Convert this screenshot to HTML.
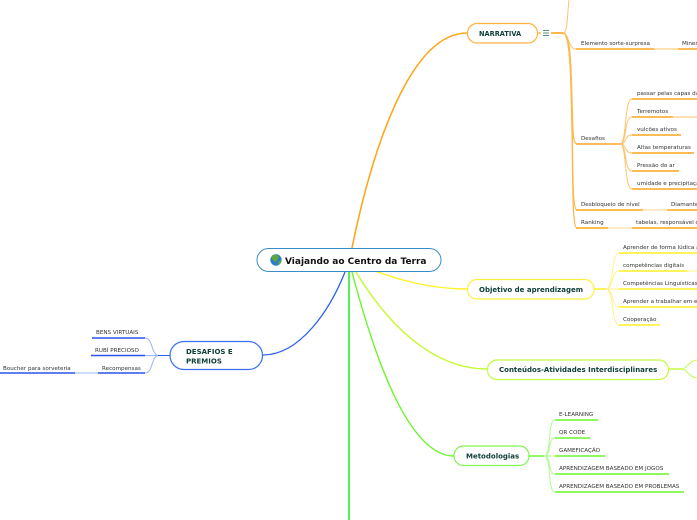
<!DOCTYPE html>
<html><head><meta charset="utf-8">
<style>
html,body{margin:0;padding:0;background:#fff}
svg{display:block}
text{font-family:"DejaVu Sans","Liberation Sans",sans-serif}
.l{font-size:5.6px;fill:#333}
.c{fill:none;stroke-linecap:round}
.n{font-weight:bold;fill:#0f4038}
</style></head><body>
<svg width="697" height="520" viewBox="0 0 697 520" xmlns="http://www.w3.org/2000/svg">
<!-- main curves -->
<path class="c" d="M352 248C372 150 410 33 467 33" stroke="#ffa71c" stroke-width="1.6"/>
<path class="c" d="M375 271C400 280 430 289 467 289" stroke="#fff22a" stroke-width="1.4"/>
<path class="c" d="M356 272C385 320 430 369 487 369" stroke="#c4fa2e" stroke-width="1.4"/>
<path class="c" d="M352 272C370 340 405 456 454 456" stroke="#6cf52a" stroke-width="1.4"/>
<path class="c" d="M349 272L349 520" stroke="#2cf02c" stroke-width="1.6"/>
<path class="c" d="M345 272C330 310 300 355 263 355" stroke="#2a62f0" stroke-width="1.3"/>

<!-- Narrativa -->
<g fill="none" stroke="#ffc36e" stroke-width="1">
<path d="M563 33C568 33 567 15 569 0"/>
<path d="M563 33C569 33 568 49 576 49"/>
<path d="M654 49H678"/>
<path d="M620 144C627 144 624 99 632 99M620 144C627 144 624 117 632 117M620 144C627 144 624 135 632 135M620 144C627 144 624 153 632 153M620 144C627 144 624 171 632 171M620 144C627 144 624 189 632 189"/>
<path d="M673 117H697"/>
<path d="M643 210H667M608 228H632" stroke="#ffe3b8" stroke-width="1.5"/>
</g>
<g fill="none" stroke="#ffb84e" stroke-width="1.3">
<path d="M563 33C571 33 571 70 572 100C573 125 572 144 577 144"/>
<path d="M563 33C571 33 571 80 572 120C573 170 572 210 577 210"/>
<path d="M563 33C571 33 571 90 572 130C573 180 572 228 577 228"/>
</g>
<g fill="none" stroke="#ffa51e" stroke-width="1.5">
<path d="M551 33H563" stroke-width="1.6"/>
<path d="M576 49H654M678 49H697M576 144H620M632 99H697M632 117H673M632 135H681M632 153H694M632 171H679M632 189H697M576 210H643M667 210H697M576 228H608M632 228H697"/>
</g>
<rect x="467.5" y="23.5" width="70" height="19.5" rx="9.5" fill="#fff" stroke="#ffb040" stroke-width="1.2"/>
<path d="M538 33H541" stroke="#ffa71c" stroke-width="1.2"/>
<path d="M543 30.5H549M543 33H549M543 35.5H549" stroke="#2a6058" stroke-width=".8"/>
<text class="n" x="479" y="36" style="font-size:6.6px">NARRATIVA</text>
<text class="l" x="581" y="45">Elemento sorte-surpresa</text>
<text class="l" x="682" y="45">Miner</text>
<text class="l" x="581" y="140">Desafios</text>
<text class="l" x="637" y="95">passar pelas capas da</text>
<text class="l" x="637" y="113">Terremotos</text>
<text class="l" x="637" y="131">vulcões ativos</text>
<text class="l" x="637" y="149">Altas temperaturas</text>
<text class="l" x="637" y="167">Pressão do ar</text>
<text class="l" x="637" y="185">umidade e precipitação</text>
<text class="l" x="581" y="206">Desbloqueio de nível</text>
<text class="l" x="671" y="206">Diamante</text>
<text class="l" x="581" y="224">Ranking</text>
<text class="l" x="636" y="224">tabelas, responsável d</text>

<!-- Objetivo -->
<g fill="none" stroke="#fff48a" stroke-width="1">
<path d="M606 289C614 289 611 253 619 253M606 289C614 289 611 271 619 271M606 289H619M606 289C614 289 611 307 619 307M606 289C614 289 611 325 619 325M687 271H697"/>
</g>
<path d="M594 289H606" stroke="#fff022" stroke-width="1.5"/>
<path d="M619 253H697M619 271H687M619 289H697M619 307H697M619 325H660" stroke="#fff022" stroke-width="1.5" fill="none"/>
<rect x="467.5" y="279.5" width="126.5" height="19.5" rx="9.5" fill="#fff" stroke="#fff040" stroke-width="1.2"/>
<text class="n" x="479" y="292" style="font-size:7px">Objetivo de aprendizagem</text>
<text class="l" x="623" y="249">Aprender de forma lúdica a</text>
<text class="l" x="623" y="267">competências digitais</text>
<text class="l" x="623" y="285">Competências Linguísticas</text>
<text class="l" x="623" y="303">Aprender a trabalhar em e</text>
<text class="l" x="623" y="321">Cooperação</text>

<!-- Conteudos -->
<path d="M668 369H683" stroke="#c4fa2e" stroke-width="1.4"/>
<path d="M683 369C688 367 689 361 697 360M683 369C688 371 689 377 697 378" fill="none" stroke="#c8fa60" stroke-width="1.1"/>
<rect x="487.5" y="360" width="181" height="19.5" rx="9.5" fill="#fff" stroke="#c4fa40" stroke-width="1.2"/>
<text class="n" x="499" y="372" style="font-size:7px">Conteúdos-Atividades Interdisciplinares</text>

<!-- Metodologias -->
<g fill="none" stroke="#b4fa90" stroke-width="1">
<path d="M544 456C552 456 547 420 555 420M544 456C552 456 547 438 555 438M544 456H555M544 456C552 456 547 474 555 474M544 456C552 456 547 492 555 492"/>
</g>
<path d="M529 456H544" stroke="#6cf52a" stroke-width="1.5"/>
<path d="M555 420H598M555 438H590M555 456H605M555 474H669M555 492H684" stroke="#6cf52a" stroke-width="1.5" fill="none"/>
<rect x="454" y="446" width="75" height="19.5" rx="9.5" fill="#fff" stroke="#80f550" stroke-width="1.2"/>
<text class="n" x="466" y="458.5" style="font-size:7px">Metodologias</text>
<text class="l" x="559" y="416">E-LEARNING</text>
<text class="l" x="559" y="434">QR CODE</text>
<text class="l" x="559" y="452">GAMEFICAÇÃO</text>
<text class="l" x="559" y="470">APRENDIZAGEM BASEADO EM JOGOS</text>
<text class="l" x="559" y="488">APRENDIZAGEM BASEADO EM PROBLEMAS</text>

<!-- Desafios e premios -->
<g fill="none" stroke="#98b4fa" stroke-width="1">
<path d="M158 355.5C151 354 153 338 145 338M158 355.5H145M158 355.5C151 357 153 373 145 373M75 373H98"/>
</g>
<path d="M158 355.5H170" stroke="#2a62f0" stroke-width="1"/>
<path d="M92 338H145M91 355.5H145M98 373H145M0 373H75" stroke="#2a55e8" stroke-width="1.4" fill="none"/>
<rect x="170" y="341.5" width="92.5" height="28" rx="14" fill="#fff" stroke="#3a70f0" stroke-width="1.2"/>
<text class="n" x="186" y="354" style="font-size:7px">DESAFIOS E</text>
<text class="n" x="186" y="363.5" style="font-size:7px">PREMIOS</text>
<text class="l" x="96" y="334">BENS VIRTUAIS</text>
<text class="l" x="95" y="352">RUBÍ PRECIOSO</text>
<text class="l" x="102" y="370">Recompensas</text>
<text class="l" x="3" y="370">Boucher para sorveteria</text>

<!-- Central -->
<rect x="257" y="248.5" width="184" height="23" rx="11.5" fill="#fff" stroke="#3a8cc8" stroke-width="1"/>
<circle cx="276" cy="260" r="5.7" fill="#2a7fc8"/>
<path d="M272 255.5C275 254 278 255 279 257C277 259 278 261 275 262C273 260 271 259 272 255.5ZM278 262C280 261 281 260 281.5 259C282 262 280 264 278 265Z" fill="#5ca83a"/>
<text x="285" y="264" style="font-size:9px;font-weight:bold;fill:#111">Viajando ao Centro da Terra</text>
</svg>
</body></html>
